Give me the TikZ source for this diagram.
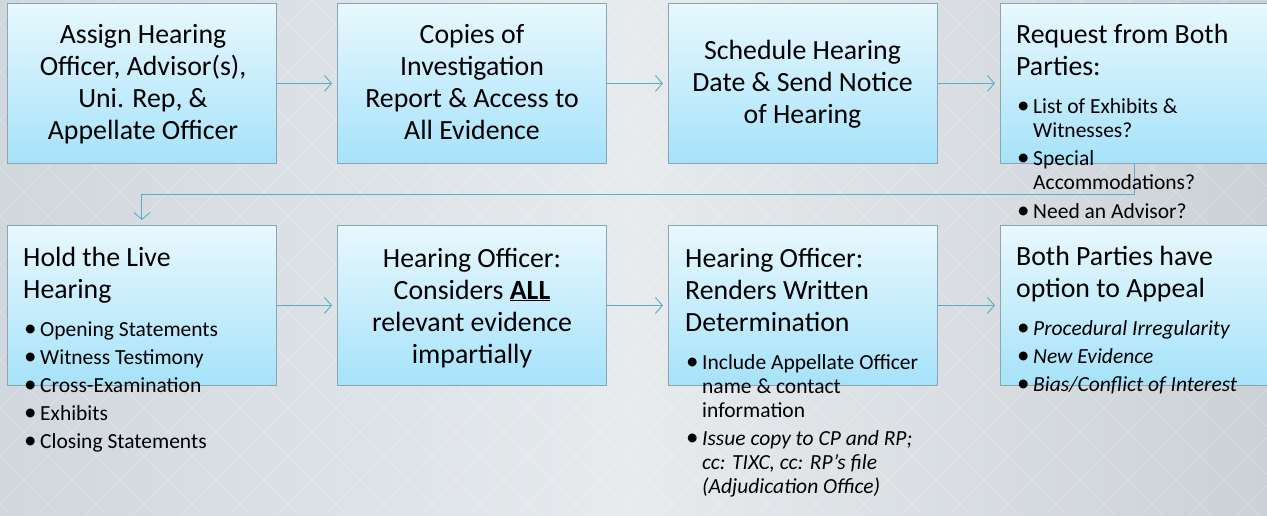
\documentclass[tikz,border=0pt]{standalone}
\usepackage{fontspec}
\setmainfont{Carlito}
\usetikzlibrary{arrows.meta}
\definecolor{conn}{RGB}{91,172,200}
\definecolor{boxtop}{RGB}{232,248,254}
\definecolor{boxbot}{RGB}{166,226,250}
\definecolor{boxedge}{RGB}{140,165,178}
\definecolor{bgl}{RGB}{208,215,221}
\definecolor{bgm}{RGB}{231,235,238}
\definecolor{bgr}{RGB}{204,209,214}
\newcommand{\ttlfont}{\fontsize{27.8}{32}\selectfont}
\newcommand{\bulfont}{\fontsize{21.5}{24}\selectfont}
\newcommand{\bitem}[1]{{\leftskip=17pt\noindent\llap{\makebox[16pt][l]{\upshape\fontsize{25}{24}\selectfont •}}#1\par}}
\newcommand{\bgap}{\vspace{4.5pt}}
\newcommand{\tgap}{\vspace{14pt}}
\begin{document}
\begin{tikzpicture}[x=1pt,y=-1pt,
  stepbox/.style={draw=boxedge, line width=0.8pt, top color=boxtop, bottom color=boxbot,
    minimum width=269pt, minimum height=160pt, inner sep=0pt, anchor=north west},
  link/.style={draw=conn, line width=0.9pt, -{Straight Barb[length=7pt,width=16pt]}, shorten >=5pt},
  ltxt/.style={inner sep=0pt, anchor=base west, text=black},
  ctxt/.style={inner sep=0pt, anchor=base, text=black}]
\useasboundingbox (0,0) rectangle (1267,515);
\clip (0,0) rectangle (1267,515);
% background
\shade[left color=bgl, right color=bgr, middle color=bgm] (0,0) rectangle (1267,515);
\foreach \i in {-600,-552,...,1900}{
  \draw[white, opacity=0.3, line width=0.6pt] (\i,0) -- ++(515,515);
  \draw[white, opacity=0.3, line width=0.6pt] (\i,0) -- ++(-515,515);
}
% boxes
\node[stepbox] (b1) at (7,3) {};
\node[stepbox] (b2) at (337,3) {};
\node[stepbox] (b3) at (668,3) {};
\node[stepbox] (b4) at (1000,3) {};
\node[stepbox] (b5) at (7,225) {};
\node[stepbox] (b6) at (337,225) {};
\node[stepbox] (b7) at (668,225) {};
\node[stepbox] (b8) at (1000,225) {};
% connectors
\draw[link] (b1.east) -- (b2.west);
\draw[link] (b2.east) -- (b3.west);
\draw[link] (b3.east) -- (b4.west);
\draw[link] (b4.south) -- ++(0,31) -| (b5.north);
\draw[link] (b5.east) -- (b6.west);
\draw[link] (b6.east) -- (b7.west);
\draw[link] (b7.east) -- (b8.west);
% texts
\node[ctxt] (t1) at (143,43) {\parbox[t]{262pt}{\centering\ttlfont Assign Hearing\\Officer, Advisor(s),\\Uni. Rep, \&\\Appellate Officer}};
\node[ctxt] (t2) at (472,43) {\parbox[t]{262pt}{\centering\ttlfont Copies of\\Investigation\\Report \& Access to\\All Evidence}};
\node[ctxt] (t3) at (802.5,59) {\parbox[t]{262pt}{\centering\ttlfont Schedule Hearing\\Date \& Send Notice\\of Hearing}};
\node[ltxt] (t4) at (1016,43) {\parbox[t]{250pt}{\raggedright\ttlfont Request from Both\\Parties:\par\bulfont\tgap
  \bitem{List of Exhibits \&\newline Witnesses?}\bgap
  \bitem{Special\newline Accommodations?}\bgap
  \bitem{Need an Advisor?}}};
\node[ltxt] (t5) at (23,266) {\parbox[t]{300pt}{\raggedright\ttlfont Hold the Live\\Hearing\par\bulfont\tgap
  \bitem{Opening Statements}\vspace{4pt}
  \bitem{Witness Testimony}\vspace{4pt}
  \bitem{Cross-Examination}\vspace{4pt}
  \bitem{Exhibits}\vspace{4pt}
  \bitem{Closing Statements}}};
\node[ctxt] (t6) at (472,267) {\parbox[t]{262pt}{\centering\ttlfont Hearing Officer:\\Considers \textbf{\underline{ALL}}\\relevant evidence\\impartially}};
\node[ltxt] (t7) at (685,267) {\parbox[t]{300pt}{\raggedright\ttlfont Hearing Officer:\\Renders Written\\Determination\par\bulfont\tgap
  \bitem{Include Appellate Officer\newline name \& contact\newline information}\bgap
  \bitem{\itshape Issue copy to CP and RP;\newline cc: TIXC, cc: RP’s file\newline (Adjudication Office)}}};
\node[ltxt] (t8) at (1016,265) {\parbox[t]{300pt}{\raggedright\ttlfont Both Parties have\\option to Appeal\par\bulfont\tgap
  \bitem{\itshape Procedural Irregularity}\vspace{4pt}
  \bitem{\itshape New Evidence}\vspace{4pt}
  \bitem{\itshape Bias/Conflict of Interest}}};
\end{tikzpicture}
\end{document}
